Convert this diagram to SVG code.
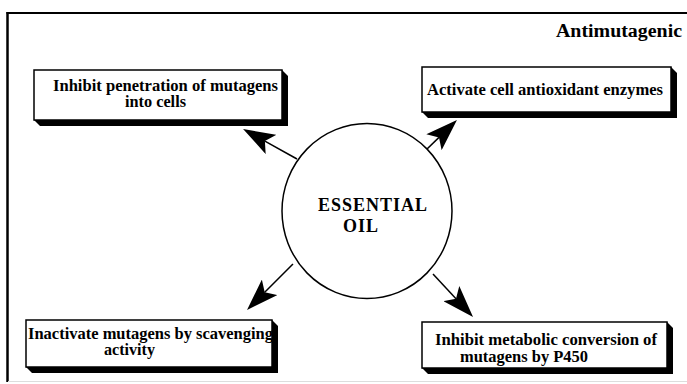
<svg xmlns="http://www.w3.org/2000/svg" width="687" height="384" viewBox="0 0 687 384">
<style>
.t{font-family:"Liberation Serif","Times New Roman",serif;font-weight:bold;fill:#000}
.bt{font-size:16px}
.box{fill:#fff;stroke:#000;stroke-width:1.5}
.sh{fill:#000}
.con{stroke:#000;stroke-width:1.5;fill:none}
</style>
<defs>
<marker id="ah" viewBox="-32 -11 32 22" markerWidth="32" markerHeight="22" refX="-25" refY="0" orient="auto" markerUnits="userSpaceOnUse">
<path d="M0,0 L-32,-11 L-25,0 L-32,11 Z" fill="#000"/>
</marker>
</defs>
<rect width="687" height="384" fill="#fff"/>
<g id="frame">
<line x1="6.5" y1="13" x2="687" y2="13" stroke="#000" stroke-width="2"/>
<line x1="7.5" y1="12" x2="7.5" y2="382" stroke="#000" stroke-width="2.5"/>
<line x1="8" y1="381.5" x2="687" y2="381.5" stroke="#ddd" stroke-width="1"/>
</g>
<text id="title" class="t" x="556" y="37" font-size="18" textLength="126" lengthAdjust="spacingAndGlyphs">Antimutagenic</text>
<g id="connectors">
<line class="con" x1="297" y1="159" x2="264.9" y2="141.1" marker-end="url(#ah)"/>
<line class="con" x1="426" y1="150" x2="439" y2="137.4" marker-end="url(#ah)"/>
<line class="con" x1="293" y1="264" x2="264.7" y2="292.3" marker-end="url(#ah)"/>
<line class="con" x1="433" y1="274" x2="456" y2="298.7" marker-end="url(#ah)"/>
</g>
<g id="oil">
<ellipse cx="367" cy="211" rx="85" ry="87.5" fill="#fff" stroke="#000" stroke-width="1.5"/>
<text class="t" x="318" y="211" font-size="18" textLength="109" lengthAdjust="spacing">ESSENTIAL</text>
<text class="t" x="343" y="232" font-size="18" textLength="35" lengthAdjust="spacing">OIL</text>
</g>
<g id="penetration">
<polygon class="sh" points="282,70 288,76 288,126 40,126 34,120"/>
<rect class="box" x="34" y="70" width="248" height="50"/>
<text class="t bt" x="53" y="91" textLength="225" lengthAdjust="spacingAndGlyphs">Inhibit penetration of mutagens</text>
<text class="t bt" x="125" y="107" textLength="61" lengthAdjust="spacingAndGlyphs">into cells</text>
</g>
<g id="antioxidant">
<polygon class="sh" points="671,67 677,73 677,118 428,118 422,112"/>
<rect class="box" x="422" y="67" width="249" height="45"/>
<text class="t bt" x="427" y="95" textLength="236" lengthAdjust="spacingAndGlyphs">Activate cell antioxidant enzymes</text>
</g>
<g id="scavenging">
<polygon class="sh" points="272,320 278,326 278,373 32,373 26,367"/>
<rect class="box" x="26" y="320" width="246" height="47"/>
<text class="t bt" x="28" y="339" textLength="245" lengthAdjust="spacingAndGlyphs">Inactivate mutagens by scavenging</text>
<text class="t bt" x="104" y="355" textLength="51" lengthAdjust="spacingAndGlyphs">activity</text>
</g>
<g id="metabolic">
<polygon class="sh" points="667,322 673,328 673,374 428,374 422,368"/>
<rect class="box" x="422" y="322" width="245" height="46"/>
<text class="t bt" x="435" y="345" textLength="222" lengthAdjust="spacingAndGlyphs">Inhibit metabolic conversion of</text>
<text class="t bt" x="460" y="362" textLength="128" lengthAdjust="spacingAndGlyphs">mutagens by P450</text>
</g>
</svg>
